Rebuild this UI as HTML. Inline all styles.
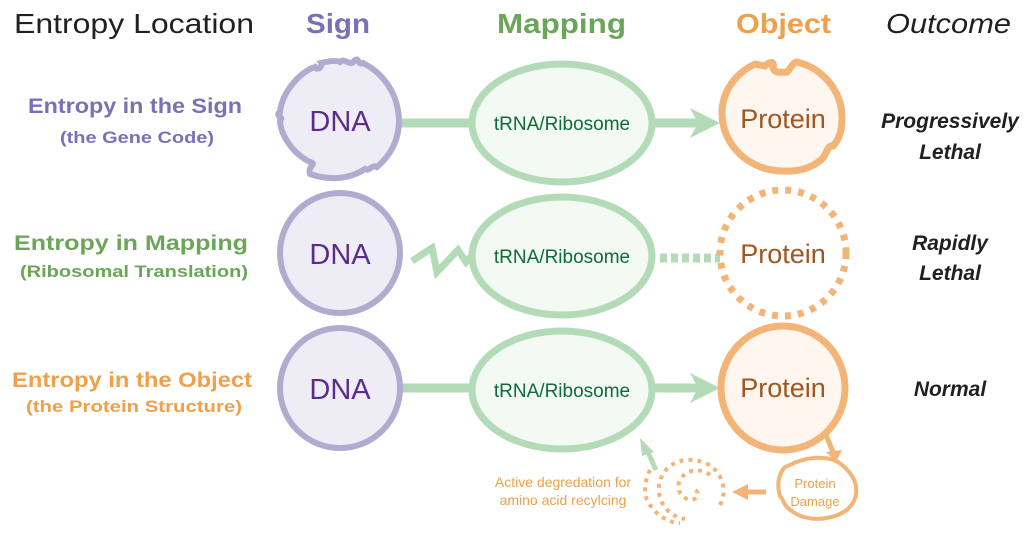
<!DOCTYPE html>
<html><head><meta charset="utf-8"><style>
html,body{margin:0;padding:0;background:#fff;}
svg{display:block;font-family:"Liberation Sans",sans-serif;}
</style></head><body>
<svg width="1024" height="535" viewBox="0 0 1024 535" xmlns="http://www.w3.org/2000/svg">
<g font-size="28" text-anchor="start">
<text x="14" y="33" fill="#231f20" textLength="240" lengthAdjust="spacingAndGlyphs">Entropy Location</text>
<text x="306" y="33" fill="#7b6fb8" font-weight="bold" textLength="64" lengthAdjust="spacingAndGlyphs">Sign</text>
<text x="497" y="33" fill="#6aa55a" font-weight="bold" textLength="129" lengthAdjust="spacingAndGlyphs">Mapping</text>
<text x="736" y="33" fill="#eea04a" font-weight="bold" textLength="95" lengthAdjust="spacingAndGlyphs">Object</text>
<text x="886" y="33" fill="#231f20" font-style="italic" textLength="125" lengthAdjust="spacingAndGlyphs">Outcome</text>
</g>
<g font-weight="bold" text-anchor="start">
<text x="28" y="113" font-size="21" fill="#7b6fb8" textLength="214" lengthAdjust="spacingAndGlyphs">Entropy in the Sign</text>
<text x="60" y="143" font-size="17" fill="#7b6fb8" textLength="154" lengthAdjust="spacingAndGlyphs">(the Gene Code)</text>
<text x="14" y="250" font-size="21" fill="#6aa55a" textLength="234" lengthAdjust="spacingAndGlyphs">Entropy in Mapping</text>
<text x="20" y="277" font-size="17" fill="#6aa55a" textLength="228" lengthAdjust="spacingAndGlyphs">(Ribosomal Translation)</text>
<text x="12" y="387" font-size="21" fill="#eea04a" textLength="240" lengthAdjust="spacingAndGlyphs">Entropy in the Object</text>
<text x="26" y="412" font-size="17" fill="#eea04a" textLength="216" lengthAdjust="spacingAndGlyphs">(the Protein Structure)</text>
</g>
<g font-weight="bold" font-style="italic" font-size="21" fill="#231f20" text-anchor="middle">
<text x="950" y="128">Progressively</text>
<text x="950" y="159">Lethal</text>
<text x="950" y="250">Rapidly</text>
<text x="950" y="280">Lethal</text>
<text x="950" y="396">Normal</text>
</g>

<g stroke="#b3dbb8" stroke-width="9" fill="none">
<line x1="400" y1="123" x2="475" y2="123"/>
<line x1="652" y1="123" x2="700" y2="123"/>
<line x1="400" y1="388" x2="475" y2="388"/>
<line x1="652" y1="388" x2="700" y2="388"/>
<line x1="660" y1="258" x2="720" y2="258" stroke-dasharray="7,4"/>
<polyline points="412,261 432,248 437,272 458,250 466,262 477,250" stroke-width="7" stroke-linejoin="miter"/>
<line x1="656" y1="470" x2="646" y2="448" stroke-width="5"/>
</g>
<g fill="#b3dbb8">
<polygon points="690,108 720,123 690,138 698,123"/>
<polygon points="690,373 720,388 690,403 698,388"/>
<polygon points="640,438 654,452 642,456"/>
</g>

<g fill="#eeedf5" stroke="#b1abd0" stroke-width="6">
<path d="M340,62 c5,-5 10,6 15,-2 c4,-3 3,6 8,3 c20,10 35,30 36,57 c0,20 -8,35 -22,47 c-5,-3 -8,5 -12,2 c-15,10 -35,12 -55,5 c-3,-8 8,-10 0,-12 c-20,-10 -30,-30 -30,-42 c5,-3 -6,-4 0,-8 c2,-20 20,-40 35,-45 c2,4 8,0 6,-4 c8,-2 15,-3 19,-1 z"/>
<circle cx="340" cy="253" r="60"/>
<circle cx="340" cy="388" r="60"/>
</g>
<g font-size="29" fill="#5b2c8c" text-anchor="middle">
<text x="340" y="131">DNA</text>
<text x="340" y="264">DNA</text>
<text x="340" y="399">DNA</text>
</g>

<g fill="#f3f9f3" stroke="#b3dbb8" stroke-width="7">
<ellipse cx="562" cy="123" rx="90" ry="59"/>
<ellipse cx="562" cy="256" rx="90" ry="59"/>
<ellipse cx="562" cy="390" rx="90" ry="59"/>
</g>
<g font-size="19" fill="#0e6b3a" text-anchor="middle">
<text x="562" y="130">tRNA/Ribosome</text>
<text x="562" y="263">tRNA/Ribosome</text>
<text x="562" y="397">tRNA/Ribosome</text>
</g>

<g stroke="#f3b577" stroke-width="7">
<path d="M765,66 c4,-4 10,-6 8,2 c2,6 10,4 14,4 c4,-4 6,-10 10,-10 c25,6 45,28 45,56 c0,12 -3,22 -9,28 c-5,-1 -6,6 -10,12 c-10,10 -25,14 -40,13 c-34,0 -61,-26 -61,-58 c0,-22 14,-40 33,-49 z" fill="#fef6ef"/>
<circle cx="783" cy="253" r="63" fill="none" stroke-dasharray="6,7"/>
<circle cx="783" cy="388" r="62" fill="#fef6ef"/>
</g>
<g font-size="27" fill="#a0561f" text-anchor="middle">
<text x="783" y="128">Protein</text>
<text x="783" y="263">Protein</text>
<text x="783" y="397">Protein</text>
</g>

<g stroke="#f3b577" fill="none">
<line x1="826" y1="435" x2="833" y2="452" stroke-width="5"/>
<path d="M790,465 c15,-8 35,-10 48,-3 c12,8 20,20 18,32 c-2,14 -15,22 -30,24 c-15,3 -30,-2 -38,-10 c-5,-4 -4,-8 -8,-12 c-3,-10 -2,-20 4,-28 c2,-2 4,-2 6,-3 z" stroke-width="4" fill="#fff"/>
<line x1="766" y1="492" x2="745" y2="492" stroke-width="5"/>
<path d="M710,475 c-10,-8 -25,-5 -30,5 c-5,10 2,18 10,20 c8,0 10,-8 5,-10 M720,505 c8,-15 2,-35 -15,-42 c-20,-8 -40,0 -45,18 c-5,15 5,35 25,38 M650,470 c-5,10 -8,25 0,35 c8,12 20,18 30,18" stroke-width="4" stroke-dasharray="4,5"/>
</g>
<g fill="#f3b577">
<polygon points="826,452 842,450 836,462"/>
<polygon points="748,484 732,492 748,500"/>
</g>
<g font-size="14" fill="#eea04a" text-anchor="middle">
<text x="815" y="488" font-size="13">Protein</text>
<text x="815" y="506" font-size="13">Damage</text>
<text x="563" y="487">Active degredation for</text>
<text x="563" y="505">amino acid recylcing</text>
</g>
</svg>
</body></html>
